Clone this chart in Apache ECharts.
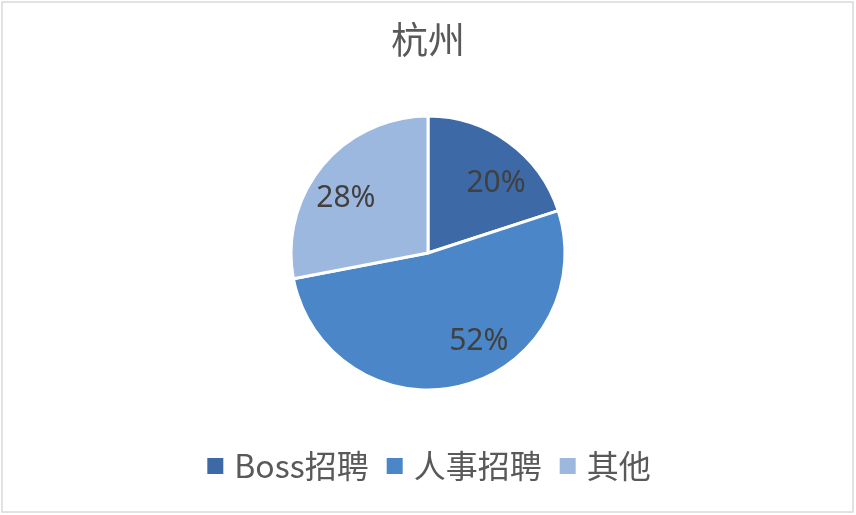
<!DOCTYPE html>
<html>
<head>
<meta charset="utf-8">
<title>杭州</title>
<script src="https://cdn.jsdelivr.net/npm/echarts@6/dist/echarts.min.js"></script>
<style>
  html, body { margin: 0; padding: 0; background: #fff; }
  #main { width: 856px; height: 515px; }
</style>
</head>
<body>
<div id="main"></div>
<script>
// 数据
var categories = ['Boss招聘', '人事招聘', '其他'];
var shares = [20, 52, 28];
var colors = ['#3d69a6', '#4a86c8', '#9db8de'];

// label 微调(Excel 的标签位置)
var labelOffsets = [[26, -12], [33, 19], [-27, -9]];

var chart = echarts.init(document.getElementById('main'));

var pieData = categories.map(function (name, i) {
  return {
    name: name,
    value: shares[i],
    itemStyle: { color: colors[i] },
    label: { offset: labelOffsets[i] }
  };
});

chart.setOption({
  backgroundColor: '#fff',
  animation: false,
  title: {
    text: '杭州',
    left: 'center',
    top: 16,
    textStyle: {
      fontFamily: 'Noto Sans CJK SC',
      fontSize: 37,
      fontWeight: 'normal',
      color: '#595959'
    }
  },
  legend: {
    bottom: 28,
    left: 'center',
    icon: 'rect',
    itemWidth: 18,
    itemHeight: 18,
    itemGap: 16,
    selectedMode: false,
    textStyle: {
      fontFamily: 'Noto Sans CJK SC',
      fontSize: 32,
      color: '#595959',
      padding: [0, 0, 0, 5]
    },
    data: categories
  },
  graphic: [{
    type: 'rect',
    shape: { x: 2, y: 2, width: 851, height: 510 },
    style: { fill: 'none', stroke: '#d9d9d9', lineWidth: 1.5 },
    silent: true
  }],
  series: [{
    type: 'pie',
    center: [428, 253],
    radius: [0, 137],
    startAngle: 90,
    clockwise: true,
    itemStyle: { borderColor: '#fff', borderWidth: 3 },
    label: {
      show: true,
      position: 'inside',
      formatter: '{c}%',
      fontFamily: 'Noto Sans',
      fontSize: 30,
      color: '#404040'
    },
    labelLine: { show: false },
    emphasis: { disabled: true },
    data: pieData
  }]
});
</script>
</body>
</html>
